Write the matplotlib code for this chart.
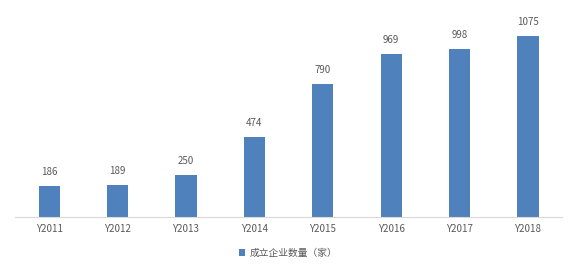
import numpy as np
import matplotlib.pyplot as plt

plt.rcParams['font.family'] = ['Noto Sans CJK SC', 'DejaVu Sans']

# data
years = ['Y2011', 'Y2012', 'Y2013', 'Y2014', 'Y2015', 'Y2016', 'Y2017', 'Y2018']
counts = [186, 189, 250, 474, 790, 969, 998, 1075]
series_name = '成立企业数量（家）'

bar_color = '#4F81BD'
text_color = '#595959'

fig = plt.figure(figsize=(5.76, 2.7), dpi=100)
ax = fig.add_axes([0.026, 0.196, 0.95, 0.748])

x = np.arange(len(years))
bars = ax.bar(x, counts, width=0.31, color=bar_color, label=series_name)

for xi, v in zip(x, counts):
    ax.text(xi, v + 55, str(v), ha='center', va='bottom', fontsize=7, color=text_color)

ax.set_xlim(-0.5, len(years) - 0.5)
ax.set_ylim(0, 1200)
ax.set_xticks(x)
ax.set_xticklabels(years, fontsize=7, color=text_color)
ax.tick_params(axis='x', length=0, pad=5)
ax.set_yticks([])
for s in ['top', 'right', 'left']:
    ax.spines[s].set_visible(False)
ax.spines['bottom'].set_color('#D9D9D9')

fig.legend(handles=[bars], labels=[series_name], loc='center', bbox_to_anchor=(0.5, 0.063),
           frameon=False, fontsize=7, labelcolor=text_color, handlelength=0.6, handleheight=0.6,
           handletextpad=0.5)

fig.savefig('out.png', dpi=100)
